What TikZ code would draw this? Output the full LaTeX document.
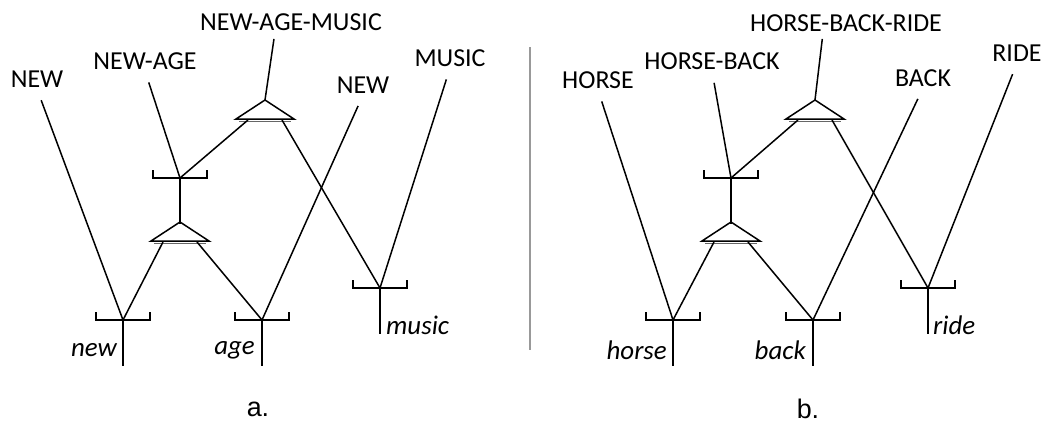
\documentclass[tikz,border=0pt]{standalone}
\usepackage{fontspec}
\setmainfont{Carlito}
\newfontfamily\capfont{Liberation Sans}

\begin{document}
\begin{tikzpicture}[x=1bp, y=-1bp,
        wire/.style={line width=1.5bp},
        stalk/.style={wire, shorten <=12bp},
        bar/.style={line width=2.6bp},
        word/.style={font=\fontsize{26}{28}\selectfont, inner sep=1bp},
        form/.style={font=\fontsize{27}{29}\selectfont\itshape, inner sep=1bp},
        tag/.style={font=\capfont\fontsize{27}{29}\selectfont, inner sep=0pt},
        cupstem/.pic={
            \draw[bar] (-27,-8) -- (-27,0) -- (27,0) -- (27,-8);
            \draw[bar] (0,0) -- (0,46);},
        wedge/.pic={
            \draw[wire, line join=miter] (-29,19) -- (0,0) -- (29,19) -- cycle;
            \draw[line width=1bp, black!60] (-26,21.5) -- (26,21.5);
            \coordinate (-a) at (0,0);
            \coordinate (-l) at (-17,20);
            \coordinate (-r) at (17,20);}]
    \useasboundingbox (0,0) rectangle (1045,423);

    % Junctions (a)
    \coordinate (jNew) at (123,320);
    \coordinate (jAge) at (262,320);
    \coordinate (jMusic) at (380,288);
    \coordinate (jNewAge) at (180,178);

    \pic at (jNew) {cupstem};
    \pic at (jAge) {cupstem};
    \pic at (jMusic) {cupstem};
    \pic at (jNewAge) {cupstem};
    \pic (tLow) at (180,222) {wedge};
    \pic (tTop) at (265,100) {wedge};

    % Labels (a)
    \node[word, anchor=south] (lNew) at (37,89) {NEW};
    \node[word, anchor=south] (lNewAge) at (145,71) {NEW-AGE};
    \node[word, anchor=south] (lNewAgeMusic) at (291,32) {NEW-AGE-MUSIC};
    \node[word, anchor=south] (lNewB) at (363,95) {NEW};
    \node[word, anchor=south] (lMusic) at (450,68) {MUSIC};

    \node[form, anchor=east] (wNew) at (118,350) {new};
    \node[form, anchor=east] (wAge) at (256,350) {age};
    \node[form, anchor=west] (wMusic) at (385,325) {music};

    % Lines (a)
    \draw[stalk] (lNew.south) -- (jNew);
    \draw[stalk] (lNewAge.south) -- (jNewAge);
    \draw[stalk] (lNewB.south) -- (jAge);
    \draw[stalk] (lMusic.south) -- (jMusic);
    \draw[wire, shorten <=7bp] ([shift={(-16,0)}]lNewAgeMusic.south) -- (tTop-a);
    \draw[wire] (jNew) -- (tLow-l);
    \draw[wire] (tLow-r) -- (jAge);
    \draw[wire] (jNewAge) -- (tTop-l);
    \draw[wire] (tTop-r) -- (jMusic);

    % Separator
    \draw[line width=2.5bp, black!40] (530,47) -- (530,350);

    % Junctions (b)
    \coordinate (jHorse) at (673,320);
    \coordinate (jBack) at (813,320);
    \coordinate (jRide) at (928,288);
    \coordinate (jHorseBack) at (731,178);

    \pic at (jHorse) {cupstem};
    \pic at (jBack) {cupstem};
    \pic at (jRide) {cupstem};
    \pic at (jHorseBack) {cupstem};
    \pic (uLow) at (731,222) {wedge};
    \pic (uTop) at (815,100) {wedge};

    % Labels (b)
    \node[word, anchor=south] (lHorse) at (598,90) {HORSE};
    \node[word, anchor=south] (lHorseBack) at (712,71) {HORSE-BACK};
    \node[word, anchor=south] (lHorseBackRide) at (846,33) {HORSE-BACK-RIDE};
    \node[word, anchor=south] (lBack) at (923,88) {BACK};
    \node[word, anchor=south] (lRide) at (1017,63) {RIDE};

    \node[form, anchor=east] (wHorse) at (668,350) {horse};
    \node[form, anchor=east] (wBack) at (807,350) {back};
    \node[form, anchor=west] (wRide) at (932,325) {ride};

    % Lines (b)
    \draw[stalk] (lHorse.south) -- (jHorse);
    \draw[stalk] (lHorseBack.south) -- (jHorseBack);
    \draw[stalk] (lBack.south) -- (jBack);
    \draw[stalk] (lRide.south) -- (jRide);
    \draw[wire, shorten <=6bp] ([shift={(-23,0)}]lHorseBackRide.south) -- (uTop-a);
    \draw[wire] (jHorse) -- (uLow-l);
    \draw[wire] (uLow-r) -- (jBack);
    \draw[wire] (jHorseBack) -- (uTop-l);
    \draw[wire] (uTop-r) -- (jRide);

    % Captions
    \node[tag] (capA) at (258,409) {a.};
    \node[tag] (capB) at (808,409) {b.};

\end{tikzpicture}
\end{document}
